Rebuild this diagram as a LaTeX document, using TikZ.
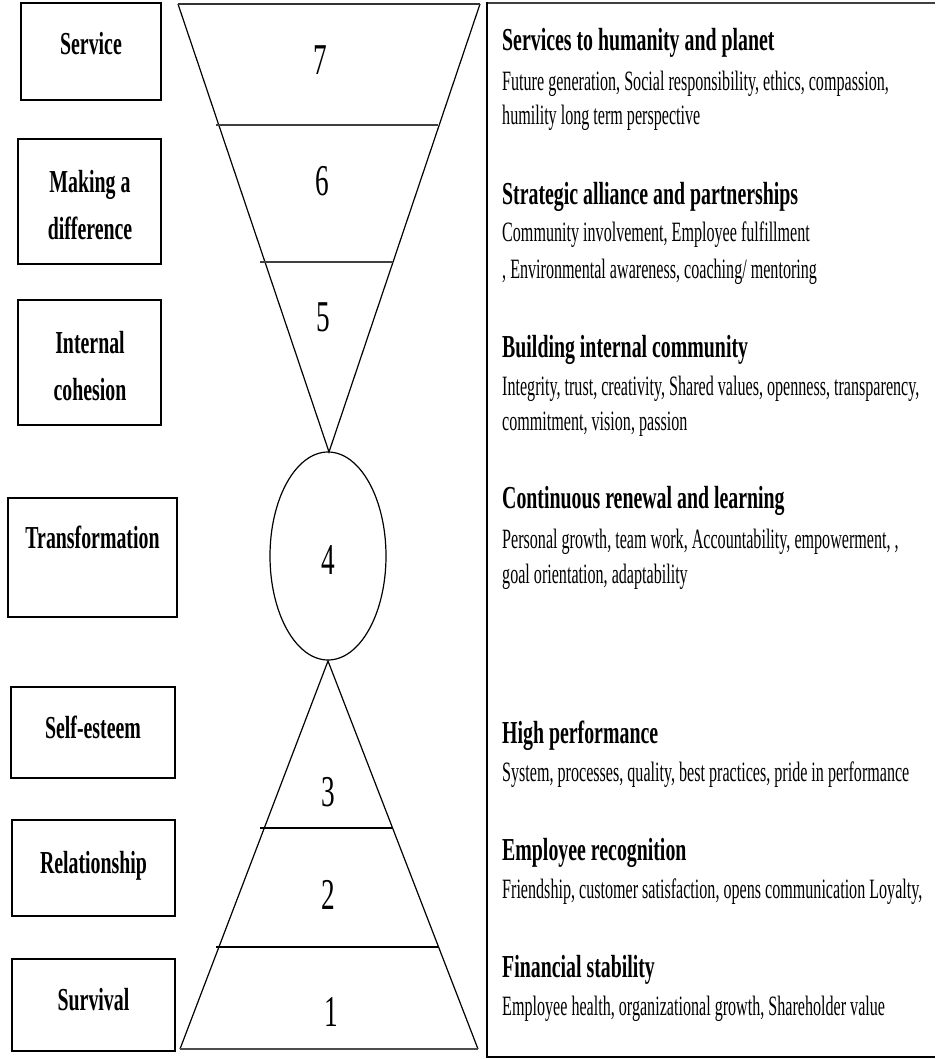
\documentclass[tikz,border=0pt]{standalone}
\usepackage{fontspec}
\setmainfont[FakeStretch=0.62]{Liberation Serif}
\newfontfamily\narrowbody[FakeStretch=0.575]{Liberation Serif}
\usetikzlibrary{calc}
\tikzset{
  lvlbox/.style={draw,line width=1.4pt,inner sep=0pt},
  lvlname/.style={font=\fontsize{32}{47}\selectfont\bfseries,align=center,inner sep=0pt},
  lvlnum/.style={font=\fontsize{44}{44}\selectfont,anchor=base,inner sep=0pt},
  headtxt/.style={font=\fontsize{32}{34}\selectfont\bfseries,anchor=base west,inner sep=0pt},
  bodytxt/.style={font=\narrowbody\fontsize{28}{30}\selectfont,anchor=base west,inner sep=0pt},
  cut/.style={line width=1.2pt},
}
\begin{document}
\begin{tikzpicture}[x=1pt,y=-1pt,line join=miter]
\useasboundingbox (0,0) rectangle (935,1059);
% level boxes
\node[lvlbox,minimum width=140,minimum height=97]  (bxsrv) at (91,51.5) {};
\node[lvlbox,minimum width=143,minimum height=125] (bxdif) at (89.5,201.5) {};
\node[lvlbox,minimum width=143,minimum height=125] (bxcoh) at (89.5,362.5) {};
\node[lvlbox,minimum width=169,minimum height=119] (bxtra) at (92.5,557.5) {};
\node[lvlbox,minimum width=164,minimum height=91]  (bxest) at (93,732.5) {};
\node[lvlbox,minimum width=163,minimum height=96]  (bxrel) at (93.5,868) {};
\node[lvlbox,minimum width=163,minimum height=92]  (bxsur) at (93.5,1005) {};
\node[lvlname,anchor=base] (lbsrv) at (91,55) {Service};
\node[lvlname] (lbdif) at (90,205) {Making a\\difference};
\node[lvlname] (lbcoh) at (90,366) {Internal\\cohesion};
\node[lvlname,anchor=base] (lbtra) at (92.5,548) {Transformation};
\node[lvlname,anchor=base] (lbest) at (93,738) {Self-esteem};
\node[lvlname,anchor=base] (lbrel) at (93.5,873) {Relationship};
\node[lvlname,anchor=base] (lbsur) at (93.5,1010) {Survival};
% upper funnel
\coordinate (ftl) at (178,4);
\coordinate (ftr) at (480,4);
\coordinate (fap) at (329,452);
\draw[cut] (ftl) -- (fap) -- (ftr);
\draw[line width=1.8pt,black!80] (ftl) -- (ftr);
\draw[cut,black!75] (216,125) -- (438,125);
\draw[cut,black!75] (260,262) -- (393,262);
% middle circle
\draw[cut] (328,556) ellipse [x radius=58,y radius=104];
% lower pyramid
\coordinate (pap) at (328,661);
\coordinate (pbl) at (180,1049);
\coordinate (pbr) at (478,1049);
\draw[cut] (pbl) -- (pap) -- (pbr);
\draw[line width=1.8pt,black!70] (pbl) -- (pbr);
\draw[cut] (260,828) -- (393,828);
\draw[cut] (216,947) -- (438,947);
\node[lvlnum] (n7) at (320,75) {7};
\node[lvlnum] (n6) at (322,196) {6};
\node[lvlnum] (n5) at (323,331) {5};
\node[lvlnum] (n4) at (328,574) {4};
\node[lvlnum] (n3) at (328,806) {3};
\node[lvlnum] (n2) at (328,909) {2};
\node[lvlnum] (n1) at (331,1026) {1};
% right panel
\draw[line width=2pt,black!75] (935,3) -- (487,3);
\draw[line width=1.5pt] (487,2) -- (487,1057) -- (935,1057);
\node[headtxt] (h7) at (502,51) {Services to humanity and planet};
\node[bodytxt] (t7a) at (502,91) {Future generation, Social responsibility, ethics, compassion,};
\node[bodytxt] (t7b) at (502,125) {humility long term perspective};
\node[headtxt] (h6) at (502,205) {Strategic alliance and partnerships};
\node[bodytxt] (t6a) at (502,241) {Community involvement, Employee fulfillment};
\node[bodytxt] (t6b) at (502,278) {, Environmental awareness, coaching/ mentoring};
\node[headtxt] (h5) at (502,357) {Building internal community};
\node[bodytxt] (t5a) at (502,395) {Integrity, trust, creativity, Shared values, openness, transparency,};
\node[bodytxt] (t5b) at (502,430) {commitment, vision, passion};
\node[headtxt] (h4) at (502,508) {Continuous renewal and learning};
\node[bodytxt] (t4a) at (502,548) {Personal growth, team work, Accountability, empowerment, ,};
\node[bodytxt] (t4b) at (502,583) {goal orientation, adaptability};
\node[headtxt] (h3) at (502,743) {High performance};
\node[bodytxt] (t3a) at (502,781) {System, processes, quality, best practices, pride in performance};
\node[headtxt] (h2) at (502,860) {Employee recognition};
\node[bodytxt] (t2a) at (502,898) {Friendship, customer satisfaction, opens communication Loyalty,};
\node[headtxt] (h1) at (502,977) {Financial stability};
\node[bodytxt] (t1a) at (502,1015) {Employee health, organizational growth, Shareholder value};
\end{tikzpicture}
\end{document}
